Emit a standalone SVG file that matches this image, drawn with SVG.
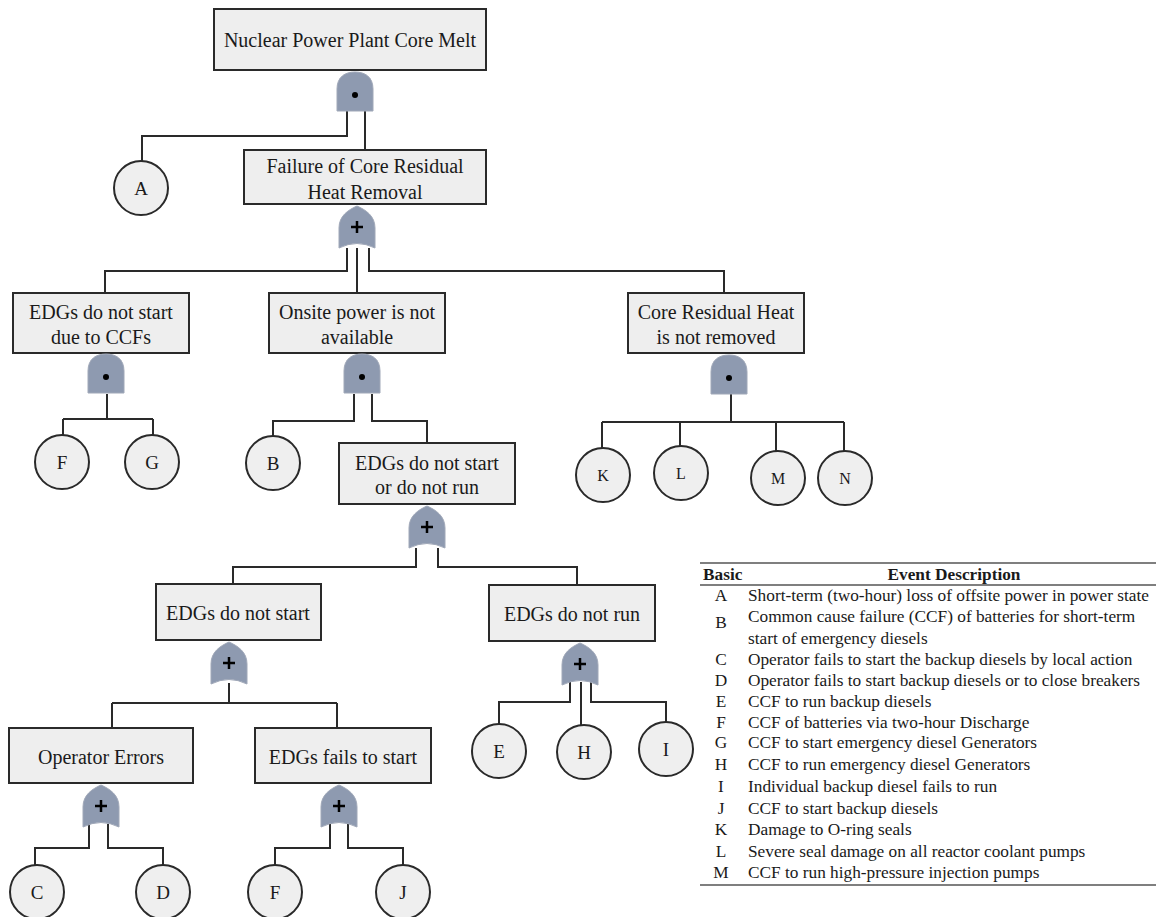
<svg xmlns="http://www.w3.org/2000/svg" xmlns:xlink="http://www.w3.org/1999/xlink" width="1156" height="917" viewBox="0 0 1156 917">
<style>
.box{fill:#eeeeee;stroke:#2a2a2a;stroke-width:2}
.circ{fill:#efefef;stroke:#2a2a2a;stroke-width:2}
text{font-family:'Liberation Serif','DejaVu Serif',serif;fill:#1a1a1a}
.lbl{font-size:20px;text-anchor:middle}
.ev{font-size:19px;text-anchor:middle}
.evs{font-size:16px;text-anchor:middle}
.conn{fill:none;stroke:#2a2a2a;stroke-width:2}
.tb{font-size:17.3px}
.tbc{text-anchor:middle}
.th{font-weight:bold}
.rule{stroke:#555;stroke-width:1.5}
</style>
<defs>
<g id="and">
<path d="M0,39 V17 C0,5 8,0 18,0 C28,0 36,5 36,17 V39 Z" fill="#8e9ab0" stroke="#a0a8b8" stroke-width="1"/>
<circle cx="18" cy="23" r="3" fill="#000"/>
</g>
<g id="or">
<path d="M0,42 V22 C0,10 9,4 18,0 C27,4 36,10 36,22 V42 Q18,33 0,42 Z" fill="#8e9ab0" stroke="#a0a8b8" stroke-width="1"/>
<path d="M12,21 H24 M18,15 V27" stroke="#000" stroke-width="2.5"/>
</g>
</defs>

<g id="connectors">
<path class="conn" d="M347,111 V136 H142 V161 M365,111 V150"/>
<path class="conn" d="M347,248 V271 H105 V293 M357,248 V293 M369,248 V271 H724 V293"/>
<path class="conn" d="M107,394 V419 M63,419 H153 M63,419 V435 M153,419 V435"/>
<path class="conn" d="M354,394 V421 H273 V436 M372,394 V421 H427 V443"/>
<path class="conn" d="M416,548 V567 H233 V584 M438,548 V567 H577 V585"/>
<path class="conn" d="M229,683 V703 M112,703 H337 M112,703 V728 M337,703 V728"/>
<path class="conn" d="M89,824 V848 H35 V865 M108,824 V848 H163 V865"/>
<path class="conn" d="M330,824 V848 H275 V865 M348,824 V848 H403 V865"/>
<path class="conn" d="M570,682 V702 H499 V724 M581,682 V725 M591,682 V702 H666 V722"/>
<path class="conn" d="M731,394 V422 M602,422 H844 M602,422 V448 M680,422 V446 M776,422 V451 M844,422 V451"/>
</g>

<g id="n-top">
<rect class="box" x="214" y="9" width="272" height="61"/>
<text class="lbl" x="350" y="47">Nuclear Power Plant Core Melt</text>
</g>
<g id="g-top"><use xlink:href="#and" x="337" y="72"/></g>
<g id="e-A"><circle class="circ" cx="141" cy="188" r="27"/><text class="ev" x="141" y="195">A</text></g>

<g id="n-failure">
<rect class="box" x="244" y="150" width="242" height="54"/>
<text class="lbl" x="365" y="173">Failure of Core Residual</text>
<text class="lbl" x="365" y="199">Heat Removal</text>
</g>
<g id="g-failure"><use xlink:href="#or" x="339" y="206"/></g>

<g id="n-ccf">
<rect class="box" x="13" y="293" width="176" height="60"/>
<text class="lbl" x="101" y="319">EDGs do not start</text>
<text class="lbl" x="101" y="344">due to CCFs</text>
</g>
<g id="g-ccf"><use xlink:href="#and" x="88" y="354"/></g>
<g id="e-F1"><circle class="circ" cx="62" cy="462" r="27"/><text class="ev" x="62" y="469">F</text></g>
<g id="e-G"><circle class="circ" cx="152" cy="462" r="27"/><text class="ev" x="152" y="469">G</text></g>

<g id="n-onsite">
<rect class="box" x="269" y="293" width="176" height="60"/>
<text class="lbl" x="357" y="319">Onsite power is not</text>
<text class="lbl" x="357" y="344">available</text>
</g>
<g id="g-onsite"><use xlink:href="#and" x="344" y="354"/></g>
<g id="e-B"><circle class="circ" cx="273" cy="463" r="27"/><text class="ev" x="273" y="470">B</text></g>

<g id="n-core">
<rect class="box" x="628" y="293" width="176" height="60"/>
<text class="lbl" x="716" y="319">Core Residual Heat</text>
<text class="lbl" x="716" y="344">is not removed</text>
</g>
<g id="g-core"><use xlink:href="#and" x="711" y="355"/></g>
<g id="e-K"><circle class="circ" cx="603" cy="475" r="27"/><text class="evs" x="603" y="481">K</text></g>
<g id="e-L"><circle class="circ" cx="681" cy="473" r="27"/><text class="evs" x="681" y="479">L</text></g>
<g id="e-M"><circle class="circ" cx="778" cy="478" r="27"/><text class="evs" x="778" y="484">M</text></g>
<g id="e-N"><circle class="circ" cx="845" cy="478" r="27"/><text class="evs" x="845" y="484">N</text></g>

<g id="n-startrun">
<rect class="box" x="339" y="443" width="176" height="61"/>
<text class="lbl" x="427" y="470">EDGs do not start</text>
<text class="lbl" x="427" y="494">or do not  run</text>
</g>
<g id="g-startrun"><use xlink:href="#or" x="409" y="506"/></g>

<g id="n-start">
<rect class="box" x="156" y="584" width="165" height="56"/>
<text class="lbl" x="238" y="620">EDGs do not start</text>
</g>
<g id="g-start"><use xlink:href="#or" x="211" y="642"/></g>

<g id="n-run">
<rect class="box" x="489" y="585" width="166" height="56"/>
<text class="lbl" x="572" y="621">EDGs do not run</text>
</g>
<g id="g-run"><use xlink:href="#or" x="562" y="643"/></g>
<g id="e-E"><circle class="circ" cx="499" cy="751" r="27"/><text class="ev" x="499" y="758">E</text></g>
<g id="e-H"><circle class="circ" cx="584" cy="752" r="27"/><text class="ev" x="584" y="759">H</text></g>
<g id="e-I"><circle class="circ" cx="666" cy="749" r="27"/><text class="ev" x="666" y="756">I</text></g>

<g id="n-operator">
<rect class="box" x="9" y="728" width="184" height="55"/>
<text class="lbl" x="101" y="764">Operator Errors</text>
</g>
<g id="g-operator"><use xlink:href="#or" x="83" y="785"/></g>
<g id="e-C"><circle class="circ" cx="37" cy="892" r="27"/><text class="ev" x="37" y="899">C</text></g>
<g id="e-D"><circle class="circ" cx="163" cy="892" r="27"/><text class="ev" x="163" y="899">D</text></g>

<g id="n-fails">
<rect class="box" x="255" y="728" width="176" height="55"/>
<text class="lbl" x="343" y="764">EDGs fails to start</text>
</g>
<g id="g-fails"><use xlink:href="#or" x="321" y="785"/></g>
<g id="e-F2"><circle class="circ" cx="275" cy="892" r="27"/><text class="ev" x="275" y="899">F</text></g>
<g id="e-J"><circle class="circ" cx="403" cy="892" r="27"/><text class="ev" x="403" y="899">J</text></g>

<g id="legend">
<line class="rule" x1="700" y1="563" x2="1156" y2="563"/>
<line class="rule" x1="700" y1="585" x2="1156" y2="585"/>
<line class="rule" x1="700" y1="885" x2="1156" y2="885"/>
<text class="tb th" x="703" y="580" font-size="16.5">Basic</text>
<text class="tb th tbc" x="954" y="580">Event Description</text>
<g>
<text class="tb tbc" x="721" y="601">A</text><text class="tb" x="748" y="601">Short-term (two-hour) loss of offsite power in power state</text>
<text class="tb tbc" x="721" y="628">B</text><text class="tb" x="748" y="622">Common cause failure (CCF) of batteries for short-term</text>
<text class="tb" x="748" y="644">start of emergency diesels</text>
<text class="tb tbc" x="721" y="665">C</text><text class="tb" x="748" y="665">Operator fails to start the backup diesels by local action</text>
<text class="tb tbc" x="721" y="686">D</text><text class="tb" x="748" y="686">Operator fails to start backup diesels or to close breakers</text>
<text class="tb tbc" x="721" y="707">E</text><text class="tb" x="748" y="707">CCF to run backup diesels</text>
<text class="tb tbc" x="721" y="728">F</text><text class="tb" x="748" y="728">CCF of batteries via two-hour Discharge</text>
<text class="tb tbc" x="721" y="748">G</text><text class="tb" x="748" y="748">CCF to start emergency diesel Generators</text>
<text class="tb tbc" x="721" y="770">H</text><text class="tb" x="748" y="770">CCF to run emergency diesel Generators</text>
<text class="tb tbc" x="721" y="792">I</text><text class="tb" x="748" y="792">Individual backup diesel fails to run</text>
<text class="tb tbc" x="721" y="814">J</text><text class="tb" x="748" y="814">CCF to start backup diesels</text>
<text class="tb tbc" x="721" y="835">K</text><text class="tb" x="748" y="835">Damage to O-ring seals</text>
<text class="tb tbc" x="721" y="857">L</text><text class="tb" x="748" y="857">Severe seal damage on all reactor coolant pumps</text>
<text class="tb tbc" x="721" y="878">M</text><text class="tb" x="748" y="878">CCF to run high-pressure injection pumps</text>
</g>
</g>
</svg>
